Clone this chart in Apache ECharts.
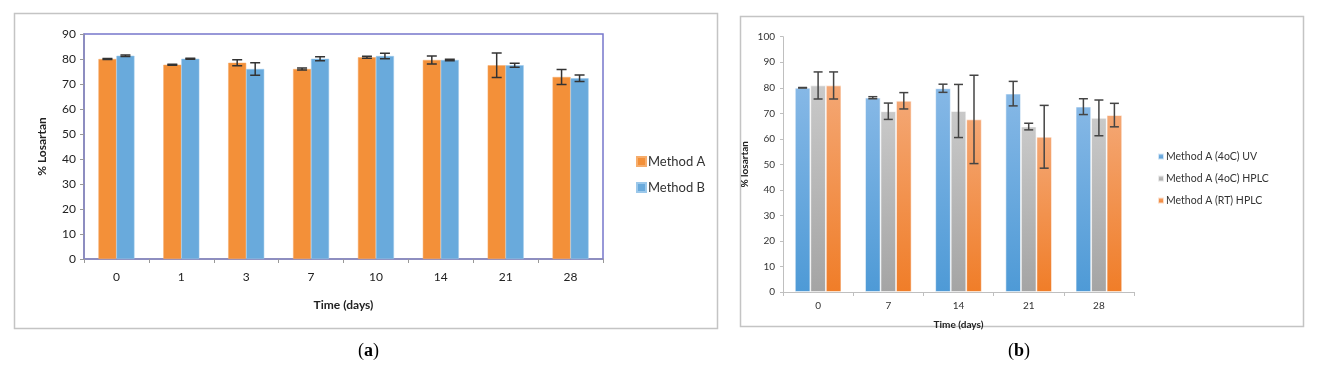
<!DOCTYPE html>
<html>
<head>
<meta charset="utf-8">
<script src="https://cdn.jsdelivr.net/npm/echarts@6/dist/echarts.min.js"></script>
<style>
html,body{margin:0;padding:0;background:#fff;}
#c{width:1323px;height:379px;}
</style>
</head>
<body>
<div id="c"></div>
<script>
// ---- Panel (a) data ----
var daysA = ['0', '1', '3', '7', '10', '14', '21', '28'];
var methodA = [80.0, 77.7, 78.5, 76.0, 80.7, 79.6, 77.5, 72.8];
var methodAErr = [0.2, 0.2, 1.2, 0.4, 0.4, 1.6, 4.9, 3.0];
var methodB = [81.3, 80.1, 76.0, 80.1, 81.2, 79.6, 77.5, 72.3];
var methodBErr = [0.3, 0.2, 2.5, 0.8, 1.1, 0.3, 0.8, 1.3];
var yTicksA = [0, 90, 10]; // min, max, interval

// ---- Panel (b) data ----
var daysB = ['0', '7', '14', '21', '28'];
var uv4 = [80.0, 76.1, 79.8, 77.7, 72.6];
var uv4Err = [0.1, 0.4, 1.6, 4.8, 3.1];
var hplc4 = [80.9, 70.8, 70.9, 64.8, 68.2];
var hplc4Err = [5.3, 3.2, 10.4, 1.3, 7.0];
var hplcRT = [80.9, 74.9, 67.6, 60.8, 69.3];
var hplcRTErr = [5.3, 3.2, 17.3, 12.3, 4.6];
var yTicksB = [0, 100, 10];

var namesA = ['Method A', 'Method B'];
var namesB = ['Method A (4oC) UV', 'Method A (4oC) HPLC', 'Method A (RT) HPLC'];

var chart = echarts.init(document.getElementById('c'), null, {renderer: 'canvas'});

function errData(vals, errs) {
  return vals.map(function (v, i) { return [i, v - errs[i], v + errs[i]]; });
}

function errSeries(vals, errs, axisIdx, slot, nSlots, barW, color, cap) {
  return {
    type: 'custom',
    xAxisIndex: axisIdx, yAxisIndex: axisIdx,
    silent: true,
    z: 10,
    encode: {x: 0, y: [1, 2]},
    data: errData(vals, errs),
    renderItem: function (params, api) {
      var ci = api.value(0);
      var lo = api.coord([ci, api.value(1)]);
      var hi = api.coord([ci, api.value(2)]);
      var x = lo[0] + (slot - (nSlots - 1) / 2) * barW;
      var st = {stroke: color, lineWidth: 1.5};
      return {
        type: 'group',
        children: [
          {type: 'line', shape: {x1: x, y1: lo[1], x2: x, y2: hi[1]}, style: st},
          {type: 'line', shape: {x1: x - cap, y1: lo[1], x2: x + cap, y2: lo[1]}, style: st},
          {type: 'line', shape: {x1: x - cap, y1: hi[1], x2: x + cap, y2: hi[1]}, style: st}
        ]
      };
    }
  };
}

function grad(top, bottom) {
  return {type: 'linear', x: 0, y: 0, x2: 0, y2: 1,
    colorStops: [{offset: 0, color: top}, {offset: 1, color: bottom}]};
}

var fontA = 'Lato, Open Sans, sans-serif';
var fontB = 'Lato, Open Sans, sans-serif';
var BW_A = 18, BW_B = 15.5;

var option = {
  animation: false,
  backgroundColor: '#ffffff',
  graphic: [
    {type: 'rect', shape: {x: 14.5, y: 13.5, width: 703, height: 315}, style: {fill: 'none', stroke: '#c4c4c4', lineWidth: 1.5}, z: -1},
    {type: 'rect', shape: {x: 740.5, y: 16.5, width: 563, height: 310}, style: {fill: 'none', stroke: '#c4c4c4', lineWidth: 1.5}, z: -1},
    {type: 'text', left: 358, top: 342, style: {text: '({b|a})', rich: {b: {fontWeight: 'bold', fontFamily: 'Liberation Serif, DejaVu Serif, serif', fontSize: 18, fill: '#000'}}, font: '18px "Liberation Serif", serif', fill: '#000'}},
    {type: 'text', left: 1008, top: 342, style: {text: '({b|b})', rich: {b: {fontWeight: 'bold', fontFamily: 'Liberation Serif, DejaVu Serif, serif', fontSize: 18, fill: '#000'}}, font: '18px "Liberation Serif", serif', fill: '#000'}}
  ],
  legend: [
    {
      data: namesA, orient: 'vertical', left: 631, top: 150,
      itemWidth: 9, itemHeight: 9, itemGap: 13, icon: 'rect',
      textStyle: {fontSize: 13, color: '#333', fontFamily: fontA, padding: [0, 0, 0, -3]}
    },
    {
      data: namesB, orient: 'vertical', left: 1152, top: 146,
      itemWidth: 6, itemHeight: 6, itemGap: 11, icon: 'rect',
      textStyle: {fontSize: 10.5, color: '#333', fontFamily: fontB, padding: [0, 0, 0, -3]}
    }
  ],
  grid: [
    {left: 84, right: 720, top: 34, bottom: 120, show: true, borderColor: '#7777cc', borderWidth: 1.5, backgroundColor: '#fff'},
    {left: 783, right: 189, top: 36.7, bottom: 87}
  ],
  xAxis: [
    {
      type: 'category', gridIndex: 0, data: daysA,
      name: 'Time (days)', nameLocation: 'middle', nameGap: 40,
      nameTextStyle: {fontSize: 12, fontWeight: 'bold', color: '#222', fontFamily: fontA},
      axisLine: {lineStyle: {color: '#8a8ab8', width: 1.5}},
      axisTick: {show: true, length: 4, lineStyle: {color: '#999'}},
      axisLabel: {fontSize: 12, color: '#222', margin: 12, fontFamily: fontA}
    },
    {
      type: 'category', gridIndex: 1, data: daysB,
      name: 'Time (days)', nameLocation: 'middle', nameGap: 28,
      nameTextStyle: {fontSize: 10, fontWeight: 'bold', color: '#222', fontFamily: fontB},
      axisLine: {lineStyle: {color: '#bfbfbf', width: 1}},
      axisTick: {show: true, length: 4, lineStyle: {color: '#bfbfbf'}},
      axisLabel: {fontSize: 10, color: '#333', margin: 9, fontFamily: fontB}
    }
  ],
  yAxis: [
    {
      type: 'value', gridIndex: 0, min: yTicksA[0], max: yTicksA[1], interval: yTicksA[2],
      name: '% Losartan', nameLocation: 'middle', nameGap: 36, nameRotate: 90,
      nameTextStyle: {fontSize: 12, fontWeight: 'bold', color: '#222', fontFamily: fontA},
      splitLine: {show: false},
      axisLine: {show: true, lineStyle: {color: '#8a8ab8', width: 1.5}},
      axisTick: {show: true, length: 4, lineStyle: {color: '#999'}},
      axisLabel: {fontSize: 12, color: '#222', margin: 8, fontFamily: fontA}
    },
    {
      type: 'value', gridIndex: 1, min: yTicksB[0], max: yTicksB[1], interval: yTicksB[2],
      name: '% losartan', nameLocation: 'middle', nameGap: 33, nameRotate: 90,
      nameTextStyle: {fontSize: 10, fontWeight: 'bold', color: '#222', fontFamily: fontB},
      splitLine: {show: false},
      axisLine: {show: true, lineStyle: {color: '#bfbfbf', width: 1}},
      axisTick: {show: true, length: 3, lineStyle: {color: '#bfbfbf'}},
      axisLabel: {fontSize: 10, color: '#333', margin: 8, fontFamily: fontB}
    }
  ],
  series: [
    {name: namesA[0], type: 'bar', xAxisIndex: 0, yAxisIndex: 0, data: methodA, barWidth: BW_A, barGap: '0%',
      itemStyle: {color: '#f39039', borderColor: '#f6ad6c', borderWidth: 0.5}},
    {name: namesA[1], type: 'bar', xAxisIndex: 0, yAxisIndex: 0, data: methodB, barWidth: BW_A, barGap: '0%',
      itemStyle: {color: '#69aadc', borderColor: '#9cc8ea', borderWidth: 0.5}},
    {name: namesB[0], type: 'bar', xAxisIndex: 1, yAxisIndex: 1, data: uv4, barWidth: BW_B, barGap: '0%',
      itemStyle: {color: grad('#86b8e6', '#4e9ad6'), borderColor: 'rgba(255,255,255,0.7)', borderWidth: 0.8}},
    {name: namesB[1], type: 'bar', xAxisIndex: 1, yAxisIndex: 1, data: hplc4, barWidth: BW_B, barGap: '0%',
      itemStyle: {color: grad('#c9c9c9', '#a4a4a4'), borderColor: 'rgba(255,255,255,0.7)', borderWidth: 0.8}},
    {name: namesB[2], type: 'bar', xAxisIndex: 1, yAxisIndex: 1, data: hplcRT, barWidth: BW_B, barGap: '0%',
      itemStyle: {color: grad('#f4a774', '#f07d28'), borderColor: 'rgba(255,255,255,0.7)', borderWidth: 0.8}},
    errSeries(methodA, methodAErr, 0, 0, 2, BW_A, '#333', 5),
    errSeries(methodB, methodBErr, 0, 1, 2, BW_A, '#333', 5),
    errSeries(uv4, uv4Err, 1, 0, 3, BW_B, '#444', 4.5),
    errSeries(hplc4, hplc4Err, 1, 1, 3, BW_B, '#444', 4.5),
    errSeries(hplcRT, hplcRTErr, 1, 2, 3, BW_B, '#444', 4.5)
  ]
};
chart.setOption(option);
</script>
</body>
</html>
